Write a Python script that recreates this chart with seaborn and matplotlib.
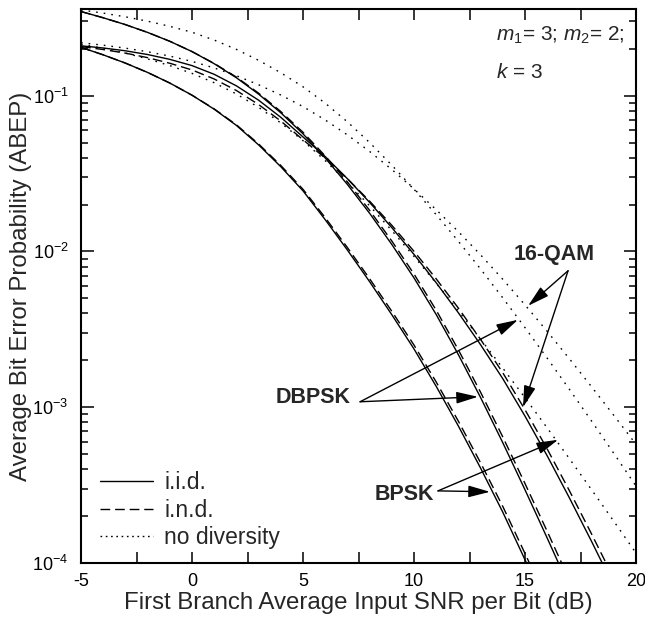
import numpy as np
import pandas as pd
import matplotlib
matplotlib.use("Agg")
import matplotlib.pyplot as plt
import seaborn as sns
from matplotlib.lines import Line2D
from matplotlib.ticker import FixedLocator, FixedFormatter, LogLocator, NullFormatter, MultipleLocator

# ---------------- data: log10(ABEP), 1 dB steps ----------------
snr_db = list(range(-5, 21))

bpsk_iid = [-0.690, -0.738, -0.791, -0.851, -0.919, -0.997, -1.087, -1.191, -1.316, -1.456,
            -1.611, -1.796, -1.991, -2.194, -2.406, -2.626, -2.866, -3.121, -3.391, -3.674,
            -3.979, -4.289, -4.604, -4.920, -5.240, -5.560]
bpsk_ind = [-0.690, -0.738, -0.791, -0.851, -0.919, -0.997, -1.085, -1.187, -1.310, -1.448,
            -1.601, -1.783, -1.975, -2.175, -2.384, -2.601, -2.838, -3.090, -3.357, -3.637,
            -3.939, -4.246, -4.558, -4.871, -5.188, -5.505]
dbpsk_iid = [-0.460, -0.500, -0.544, -0.594, -0.651, -0.717, -0.795, -0.885, -0.990, -1.110,
             -1.245, -1.400, -1.570, -1.755, -1.955, -2.170, -2.405, -2.663, -2.938, -3.228,
             -3.530, -3.840, -4.155, -4.470, -4.790, -5.110]
dbpsk_ind = [-0.460, -0.500, -0.544, -0.594, -0.651, -0.717, -0.793, -0.881, -0.984, -1.102,
             -1.235, -1.387, -1.554, -1.736, -1.933, -2.145, -2.377, -2.632, -2.904, -3.191,
             -3.490, -3.797, -4.109, -4.421, -4.738, -5.055]
qam_iid = [-0.680, -0.694, -0.712, -0.736, -0.767, -0.807, -0.863, -0.937, -1.029, -1.139,
           -1.265, -1.391, -1.533, -1.685, -1.847, -2.019, -2.201, -2.394, -2.599, -2.817,
           -3.057, -3.312, -3.582, -3.862, -4.150, -4.440]
qam_ind = [-0.685, -0.704, -0.727, -0.756, -0.792, -0.835, -0.893, -0.967, -1.057, -1.163,
           -1.283, -1.401, -1.533, -1.677, -1.832, -1.999, -2.176, -2.364, -2.565, -2.779,
           -3.016, -3.268, -3.536, -3.814, -4.100, -4.390]
dbpsk_nodiv = [-0.450, -0.470, -0.494, -0.522, -0.555, -0.593, -0.643, -0.703, -0.773, -0.853,
               -0.943, -1.048, -1.168, -1.301, -1.446, -1.601, -1.764, -1.935, -2.113, -2.298,
               -2.489, -2.685, -2.885, -3.089, -3.296, -3.506]
qam_nodiv = [-0.660, -0.676, -0.695, -0.718, -0.746, -0.780, -0.822, -0.872, -0.930, -0.996,
             -1.070, -1.156, -1.252, -1.358, -1.474, -1.599, -1.732, -1.873, -2.022, -2.179,
             -2.343, -2.513, -2.689, -2.869, -3.052, -3.238]
bpsk_nodiv = [-0.670, -0.696, -0.727, -0.764, -0.807, -0.857, -0.917, -0.989, -1.075, -1.175,
              -1.289, -1.417, -1.557, -1.707, -1.866, -2.032, -2.204, -2.381, -2.563, -2.749,
              -2.939, -3.133, -3.330, -3.530, -3.732, -3.936]

legend_labels = ["i.i.d.", "i.n.d.", "no diversity"]
y_tick_exps = [-4, -3, -2, -1]
x_ticks = [-5, 0, 5, 10, 15, 20]

series = [
    ("BPSK", "i.i.d.", bpsk_iid), ("BPSK", "i.n.d.", bpsk_ind), ("BPSK", "no diversity", bpsk_nodiv),
    ("DBPSK", "i.i.d.", dbpsk_iid), ("DBPSK", "i.n.d.", dbpsk_ind), ("DBPSK", "no diversity", dbpsk_nodiv),
    ("16-QAM", "i.i.d.", qam_iid), ("16-QAM", "i.n.d.", qam_ind), ("16-QAM", "no diversity", qam_nodiv),
]
rows = []
for mod, sch, vals in series:
    for x, v in zip(snr_db, vals):
        rows.append({"snr": x, "abep": 10.0 ** v, "mod": mod, "scheme": sch, "curve": mod + sch})
df = pd.DataFrame(rows)

# ---------------- style ----------------
sns.set_theme(style="ticks")
plt.rcParams["font.family"] = ["Liberation Sans", "DejaVu Sans"]
plt.rcParams["mathtext.fontset"] = "custom"
plt.rcParams["mathtext.rm"] = "Liberation Sans"
plt.rcParams["mathtext.it"] = "Liberation Sans:italic"
plt.rcParams["mathtext.bf"] = "Liberation Sans:bold"
plt.rcParams["axes.unicode_minus"] = False

fig = plt.figure(figsize=(6.45, 6.26), dpi=100)
ax = fig.add_axes([81 / 645, 1 - 563 / 626, (636 - 81) / 645, (563 - 9) / 626])

dot_pat = (1.2, 4.3)
dash_pat = (7, 3.5)
dash_map = {"i.i.d.": "", "i.n.d.": dash_pat, "no diversity": dot_pat}
sns.lineplot(data=df, x="snr", y="abep", units="curve", style="scheme", estimator=None,
             dashes=dash_map, color="black", linewidth=1.0, ax=ax, legend=False, sort=True)

ax.set_yscale("log")
ax.set_xlim(-5, 20)
ax.set_ylim(1e-4, 0.36)

ax.xaxis.set_major_locator(FixedLocator(x_ticks))
ax.xaxis.set_minor_locator(MultipleLocator(2.5))
ax.yaxis.set_major_locator(FixedLocator([10.0 ** e for e in y_tick_exps]))
ax.yaxis.set_major_formatter(FixedFormatter([r"$10^{%d}$" % e for e in y_tick_exps]))
ax.yaxis.set_minor_locator(LogLocator(base=10, subs=np.arange(2, 10)))
ax.yaxis.set_minor_formatter(NullFormatter())

ax.tick_params(which="both", direction="in", top=True, right=True, width=1.1, colors="black")
ax.tick_params(axis="x", which="both", length=8, labelsize=13, pad=7)
ax.tick_params(axis="y", which="major", length=9, labelsize=13, pad=9)
ax.tick_params(axis="y", which="minor", length=5)
for s in ax.spines.values():
    s.set_linewidth(1.5)
    s.set_color("black")

ax.set_xlabel("First Branch Average Input SNR per Bit (dB)", fontsize=17.3, labelpad=2)
ax.set_ylabel("Average Bit Error Probability (ABEP)", fontsize=17.3, labelpad=0)

# legend
handles = [Line2D([], [], color="black", lw=1.0, linestyle="-"),
           Line2D([], [], color="black", lw=1.0, linestyle=(0, dash_pat)),
           Line2D([], [], color="black", lw=1.0, linestyle=(0, (1.2, 2.6)))]
ax.legend(handles, legend_labels, loc="lower left", bbox_to_anchor=(0.01, 0.0), frameon=False,
          fontsize=16.5, handlelength=2.3, handletextpad=0.5, labelspacing=0.2, borderaxespad=0.2)

# parameter text
ax.text(0.748, 0.952, r"$m_{\mathit{1}}$= 3; $m_{\mathit{2}}$= 2;", transform=ax.transAxes,
        fontsize=15, ha="left", va="center")
ax.text(0.748, 0.885, r"$k$ = 3", transform=ax.transAxes, fontsize=15, ha="left", va="center")

# annotations
arrow_kw = dict(arrowstyle="-|>,head_length=1.1,head_width=0.3", color="black", lw=1.0,
                shrinkA=0, shrinkB=0)
ax.text(16.3, 10 ** -2.02, "16-QAM", fontsize=15.5, fontweight="bold", ha="center", va="center")
for tip in [(15.14, 10 ** -2.349), (14.91, 10 ** -3.0)]:
    ax.annotate("", xy=tip, xytext=(16.94, 10 ** -2.124), arrowprops=arrow_kw)

ax.text(5.45, 10 ** -2.94, "DBPSK", fontsize=15.5, fontweight="bold", ha="center", va="center")
for tip in [(14.68, 10 ** -2.439), (12.88, 10 ** -2.933)]:
    ax.annotate("", xy=tip, xytext=(7.57, 10 ** -2.965), arrowprops=arrow_kw)

ax.text(9.55, 10 ** -3.56, "BPSK", fontsize=15.5, fontweight="bold", ha="center", va="center")
for tip in [(13.42, 10 ** -3.543), (16.49, 10 ** -3.209)]:
    ax.annotate("", xy=tip, xytext=(11.08, 10 ** -3.537), arrowprops=arrow_kw)

fig.savefig("out.png", dpi=100, facecolor="white")
